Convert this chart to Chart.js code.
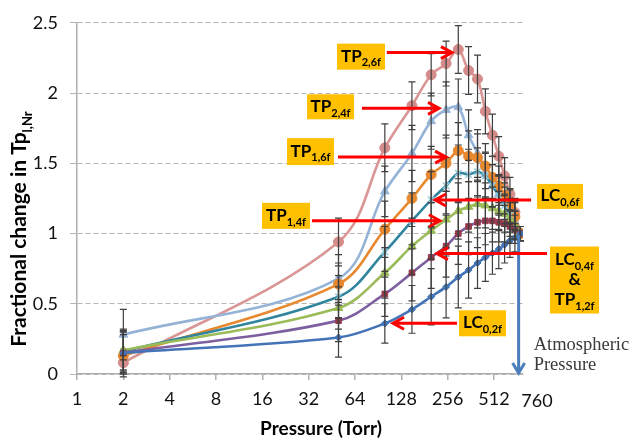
<!DOCTYPE html>
<html>
<head>
<meta charset="utf-8">
<script src="https://cdn.jsdelivr.net/npm/chart.js@4"></script>
<style>
  html, body { margin: 0; padding: 0; background: #fff; }
  #wrap { width: 632px; height: 440px; }
</style>
</head>
<body>
<div id="wrap"><canvas id="myChart" width="632" height="440"></canvas></div>
<script>
// pressures (Torr) where each series was measured
const pressures = [2, 50, 100, 150, 200, 250, 300, 350, 400, 450, 500, 550, 600, 650, 700, 760];

const tp26f = [0.08, 0.94, 1.61, 1.91, 2.13, 2.21, 2.31, 2.16, 2.10, 1.87, 1.70, 1.55, 1.41, 1.28, 1.15, 1.00];
const tp24f = [0.28, 0.68, 1.30, 1.57, 1.80, 1.88, 1.90, 1.70, 1.57, 1.42, 1.34, 1.28, 1.23, 1.19, 1.13, 1.00];
const tp16f = [0.13, 0.64, 1.03, 1.25, 1.42, 1.50, 1.59, 1.55, 1.54, 1.48, 1.40, 1.34, 1.27, 1.20, 1.12, 1.00];
const lc06f = [0.16, 0.55, 0.87, 1.09, 1.24, 1.34, 1.43, 1.42, 1.44, 1.41, 1.34, 1.27, 1.20, 1.13, 1.06, 1.00];
const tp14f = [0.17, 0.47, 0.72, 0.91, 1.02, 1.10, 1.16, 1.19, 1.21, 1.20, 1.18, 1.16, 1.14, 1.10, 1.06, 1.00];
const lc04f = [0.15, 0.38, 0.57, 0.72, 0.83, 0.91, 1.00, 1.05, 1.08, 1.09, 1.09, 1.08, 1.07, 1.05, 1.03, 1.00];
const lc02f = [0.15, 0.26, 0.36, 0.46, 0.55, 0.62, 0.69, 0.74, 0.79, 0.83, 0.86, 0.89, 0.92, 0.95, 0.97, 1.00];

// error bar half-lengths
const errTp26f = [0.05, 0.17, 0.17, 0.17, 0.15, 0.16, 0.17, 0.17, 0.17, 0.16, 0.15, 0.14, 0.13, 0.12, 0.10, 0.05];
const errTp24f = [0.18, 0.17, 0.18, 0.20, 0.20, 0.20, 0.20, 0.18, 0.17, 0.16, 0.15, 0.14, 0.13, 0.12, 0.10, 0.05];
const errTp16f = [0.15, 0.15, 0.20, 0.20, 0.20, 0.20, 0.20, 0.18, 0.17, 0.16, 0.15, 0.14, 0.13, 0.12, 0.10, 0.05];
const errLc06f = [0.15, 0.15, 0.18, 0.20, 0.20, 0.20, 0.20, 0.18, 0.17, 0.16, 0.15, 0.14, 0.13, 0.12, 0.10, 0.05];
const errTp14f = [0.15, 0.15, 0.18, 0.20, 0.20, 0.20, 0.20, 0.18, 0.17, 0.16, 0.15, 0.14, 0.13, 0.12, 0.10, 0.05];
const errLc04f = [0.15, 0.15, 0.16, 0.20, 0.22, 0.22, 0.22, 0.20, 0.18, 0.17, 0.15, 0.14, 0.13, 0.12, 0.10, 0.05];
const errLc02f = [0.15, 0.14, 0.14, 0.17, 0.20, 0.22, 0.22, 0.20, 0.18, 0.17, 0.15, 0.14, 0.13, 0.12, 0.10, 0.05];

const xTickValues = [1, 2, 4, 8, 16, 32, 64, 128, 256, 512];
const xTickLabels = ['1', '2', '4', '8', '16', '32', '64', '128', '256', '512', '760'];
const yTicks = [0, 0.5, 1, 1.5, 2, 2.5];

// callouts: [main, sub] lines, box centre (pressure, value), arrow from/to pressure at value
const callouts = [
    { lines: [['TP', '2,6f']], box: [70, 2.259], w: 48, h: 26, arrow: [103, 273, 2.288] },
    { lines: [['TP', '2,4f']], box: [44.4, 1.902], w: 47, h: 25, arrow: [71, 225, 1.891] },
    { lines: [['TP', '1,6f']], box: [32.9, 1.583], w: 47, h: 27, arrow: [49.6, 250, 1.544] },
    { lines: [['TP', '1,4f']], box: [22.8, 1.126], w: 48, h: 26, arrow: [33.6, 228, 1.091] },
    { lines: [['LC', '0,6f']], box: [1375, 1.264], w: 46, h: 25, arrow: [891, 212, 1.239] },
    { lines: [['LC', '0,4f'], ['&', ''], ['TP', '1,2f']], box: [1708, 0.669], w: 49, h: 67, arrow: [1132, 218, 0.857] },
    { lines: [['LC', '0,2f']], box: [431, 0.361], w: 47, h: 26, arrow: [294.5, 113, 0.361] }
];
const atmArrow = [740, 0.99, 0];
const atmText = ['Atmospheric', 'Pressure'];

const FONT = 'Lato, "Open Sans", sans-serif';

function pts(vals) {
    return vals.map((v, i) => ({ x: pressures[i], y: v }));
}

function series(label, vals, errs, line, fill, style, radius) {
    return {
        label: label,
        data: pts(vals),
        errors: errs,
        borderColor: line,
        backgroundColor: fill,
        pointBorderColor: fill,
        pointBackgroundColor: fill,
        pointStyle: style,
        pointRadius: radius,
        pointBorderWidth: style === 'crossRot' ? 1.5 : 1,
        borderWidth: 2.6,
        tension: 0.35,
        fill: false
    };
}

function drawSub(ctx, x, y, main, sub, size, subSize, align) {
    ctx.font = 'bold ' + size + 'px ' + FONT;
    const wm = ctx.measureText(main).width;
    ctx.font = 'bold ' + subSize + 'px ' + FONT;
    const ws = sub ? ctx.measureText(sub).width : 0;
    const total = wm + ws;
    let x0 = align === 'center' ? x - total / 2 : x;
    ctx.textAlign = 'left';
    ctx.textBaseline = 'alphabetic';
    ctx.font = 'bold ' + size + 'px ' + FONT;
    ctx.fillText(main, x0, y);
    if (sub) {
        ctx.font = 'bold ' + subSize + 'px ' + FONT;
        ctx.fillText(sub, x0 + wm, y + size * 0.28);
    }
}

const errorBars = {
    id: 'errorBars',
    afterDatasetsDraw(chart) {
        const ctx = chart.ctx;
        const ys = chart.scales.y;
        ctx.save();
        ctx.strokeStyle = '#3f3f3f';
        ctx.lineWidth = 1.2;
        chart.data.datasets.forEach((ds, di) => {
            const meta = chart.getDatasetMeta(di);
            meta.data.forEach((pt, i) => {
                const v = ds.data[i].y;
                const e = ds.errors[i];
                const y1 = ys.getPixelForValue(v - e);
                const y2 = ys.getPixelForValue(v + e);
                ctx.beginPath();
                ctx.moveTo(pt.x, y1); ctx.lineTo(pt.x, y2);
                ctx.moveTo(pt.x - 3.5, y1); ctx.lineTo(pt.x + 3.5, y1);
                ctx.moveTo(pt.x - 3.5, y2); ctx.lineTo(pt.x + 3.5, y2);
                ctx.stroke();
            });
        });
        ctx.restore();
    }
};

const extras = {
    id: 'extras',
    afterDraw(chart) {
        const ctx = chart.ctx;
        const xs = chart.scales.x, ys = chart.scales.y;
        ctx.save();

        // 760 label sits past the last tick
        ctx.fillStyle = '#111';
        ctx.font = '18px ' + FONT;
        ctx.textAlign = 'center';
        ctx.textBaseline = 'middle';
        ctx.fillText(xTickLabels[xTickLabels.length - 1], xs.right + 14, 401);

        // axis titles
        ctx.fillStyle = '#000';
        drawSub(ctx, (xs.left + xs.right) / 2 + 21, 435, 'Pressure (Torr)', '', 19, 12, 'center');
        ctx.save();
        ctx.translate(26, 229);
        ctx.rotate(-Math.PI / 2);
        drawSub(ctx, 0, 0, 'Fractional change in Tp', 'l,Nr', 21, 13, 'center');
        ctx.restore();

        // atmospheric pressure arrow
        const ax = xs.getPixelForValue(atmArrow[0]);
        const ay1 = ys.getPixelForValue(atmArrow[1]);
        const ay2 = ys.getPixelForValue(atmArrow[2]);
        ctx.strokeStyle = '#4a7ebb';
        ctx.lineWidth = 3;
        ctx.beginPath();
        ctx.moveTo(ax, ay1); ctx.lineTo(ax, ay2 - 1);
        ctx.moveTo(ax - 6, ay2 - 11); ctx.lineTo(ax, ay2 - 1); ctx.lineTo(ax + 6, ay2 - 11);
        ctx.stroke();
        ctx.fillStyle = '#3a3a3a';
        ctx.font = '18.5px "Liberation Serif", "DejaVu Serif", serif';
        ctx.textAlign = 'left';
        ctx.textBaseline = 'middle';
        ctx.fillText(atmText[0], ax + 15, 345);
        ctx.fillText(atmText[1], ax + 15, 365);

        // callout boxes and red arrows
        callouts.forEach(c => {
            const cx = xs.getPixelForValue(c.box[0]);
            const cy = ys.getPixelForValue(c.box[1]);
            ctx.fillStyle = '#ffc000';
            ctx.fillRect(cx - c.w / 2, cy - c.h / 2, c.w, c.h);
            ctx.fillStyle = '#000';
            const n = c.lines.length;
            c.lines.forEach((ln, k) => {
                const ly = cy + (k - (n - 1) / 2) * 20 + 5;
                drawSub(ctx, cx, ly, ln[0], ln[1], 17, 11, 'center');
            });
            const x1 = xs.getPixelForValue(c.arrow[0]);
            const x2 = xs.getPixelForValue(c.arrow[1]);
            const y = ys.getPixelForValue(c.arrow[2]);
            const dir = x2 > x1 ? 1 : -1;
            ctx.strokeStyle = '#ff0000';
            ctx.lineWidth = 3;
            ctx.beginPath();
            ctx.moveTo(x1, y); ctx.lineTo(x2 - dir, y);
            ctx.moveTo(x2 - dir * 11, y - 6); ctx.lineTo(x2, y); ctx.lineTo(x2 - dir * 11, y + 6);
            ctx.stroke();
        });
        ctx.restore();
    }
};

const ctx = document.getElementById('myChart');

new Chart(ctx, {
    type: 'line',
    data: {
        datasets: [
            series('LC0,2f', lc02f, errLc02f, '#4374b7', '#4374b7', 'rectRot', 3.5),
            series('LC0,4f', lc04f, errLc04f, '#7d5fa0', '#953a4c', 'rect', 4),
            series('TP1,4f', tp14f, errTp14f, '#9bbb59', '#9bbb59', 'triangle', 5),
            series('LC0,6f', lc06f, errLc06f, '#31859c', '#93cddd', 'crossRot', 4.5),
            series('TP1,6f', tp16f, errTp16f, '#e8892f', '#e8892f', 'circle', 5),
            series('TP2,4f', tp24f, errTp24f, '#95b3d7', '#95b3d7', 'triangle', 5),
            series('TP2,6f', tp26f, errTp26f, '#d99694', '#d48c8a', 'circle', 5)
        ]
    },
    options: {
        responsive: false,
        animation: false,
        devicePixelRatio: 1,
        layout: { padding: { top: 21, right: 109, bottom: 0, left: 0 } },
        plugins: {
            legend: { display: false },
            tooltip: { enabled: false }
        },
        scales: {
            x: {
                type: 'logarithmic',
                min: 1,
                max: 790,
                afterBuildTicks: axis => { axis.ticks = xTickValues.map(v => ({ value: v })); },
                afterFit: axis => { axis.height = 66; },
                ticks: {
                    autoSkip: false,
                    maxRotation: 0,
                    padding: 8,
                    color: '#111',
                    font: { family: FONT, size: 18 },
                    callback: v => xTickLabels[xTickValues.indexOf(v)]
                },
                grid: { drawOnChartArea: false, drawTicks: true, tickLength: 6, color: '#b0b0b0', lineWidth: 1.5 },
                border: { color: '#b0b0b0', width: 1.5 }
            },
            y: {
                min: 0,
                max: 2.5,
                afterBuildTicks: axis => { axis.ticks = yTicks.map(v => ({ value: v })); },
                afterFit: axis => { axis.width = 77; },
                ticks: {
                    padding: 12,
                    color: '#111',
                    font: { family: FONT, size: 18 },
                    callback: v => String(v)
                },
                grid: { color: '#b5b5b5', lineWidth: 1, tickLength: 7 },
                border: { color: '#b0b0b0', width: 1.5, dash: [5, 3] }
            }
        }
    },
    plugins: [errorBars, extras]
});
</script>
</body>
</html>
